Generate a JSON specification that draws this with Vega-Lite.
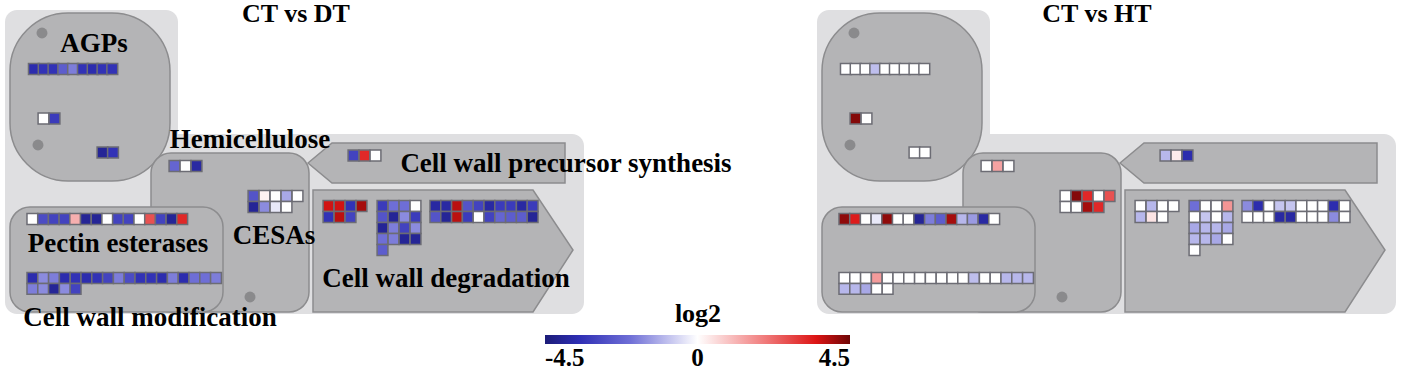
{
"$schema": "https://vega.github.io/schema/vega-lite/v6.json",
"width": 1405, "height": 375, "padding": 0,
"autosize": {"type": "fit", "contains": "padding"},
"background": "white",
"config": {"view": {"stroke": null}},
"datasets": {
"bg": [{"x":5,"x2":178,"y":10,"y2":160},{"x":5,"x2":584,"y":134,"y2":314},{"x":817,"x2":990,"y":10,"y2":160},{"x":817,"x2":1396,"y":134,"y2":314}],
"agp": [{"x":10,"x2":170,"y":13,"y2":181},{"x":822,"x2":982,"y":13,"y2":181}],
"box": [{"x":151,"x2":309,"y":153,"y2":312},{"x":10,"x2":223,"y":207,"y2":312},{"x":963,"x2":1121,"y":153,"y2":312},{"x":822,"x2":1035,"y":207,"y2":312}],
"arrows": [
{"id":"p1","x":308,"y":163,"y2":163},{"id":"p1","x":332,"y":143,"y2":183},{"id":"p1","x":565,"y":143,"y2":183},
{"id":"d1","x":313,"y":190,"y2":312},{"id":"d1","x":533,"y":190,"y2":312},{"id":"d1","x":573,"y":250,"y2":250},
{"id":"p2","x":1120,"y":163,"y2":163},{"id":"p2","x":1144,"y":143,"y2":183},{"id":"p2","x":1377,"y":143,"y2":183},
{"id":"d2","x":1125,"y":190,"y2":312},{"id":"d2","x":1345,"y":190,"y2":312},{"id":"d2","x":1385,"y":250,"y2":250}],
"dots": [{"x":42,"y":33},{"x":38,"y":145},{"x":250,"y":297},{"x":854,"y":33},{"x":850,"y":145},{"x":1062,"y":297}],
"labels": [{"t":"AGPs","x":94,"y":44},{"t":"Hemicellulose","x":250,"y":140},{"t":"Cell wall precursor synthesis","x":566,"y":164},{"t":"CESAs","x":274,"y":236},{"t":"Cell wall degradation","x":446,"y":279},{"t":"Pectin esterases","x":118,"y":244},{"t":"Cell wall modification","x":150,"y":318}],
"titles": [{"t":"CT vs DT","x":296,"y":14},{"t":"CT vs HT","x":1097,"y":14}],
"cells": [
{"x":33.9,"y":69,"log2":-3.6},{"x":43.7,"y":69,"log2":-3.4},{"x":53.5,"y":69,"log2":-3.4},{"x":63.3,"y":69,"log2":-2.4},{"x":73.1,"y":69,"log2":-1.8},{"x":82.9,"y":69,"log2":-3.4},{"x":92.7,"y":69,"log2":-3.6},{"x":102.5,"y":69,"log2":-3.4},{"x":112.3,"y":69,"log2":-3.4},
{"x":43.5,"y":118.5,"log2":0},{"x":54.5,"y":118.5,"log2":-3.2},
{"x":102.5,"y":152.5,"log2":-4},{"x":113,"y":152.5,"log2":-3.4},
{"x":174.5,"y":166,"log2":-2.2},{"x":185.5,"y":166,"log2":0},{"x":196.5,"y":166,"log2":-3.8},
{"x":253.5,"y":196,"log2":-2.6},{"x":264.5,"y":196,"log2":0.2},{"x":275.5,"y":196,"log2":0},{"x":286.5,"y":196,"log2":-1.2},{"x":297.5,"y":196,"log2":0},
{"x":253.5,"y":207,"log2":-4},{"x":264.5,"y":207,"log2":-1.6},{"x":275.5,"y":207,"log2":-0.3},{"x":286.5,"y":207,"log2":0},
{"x":353.5,"y":155.5,"log2":-3},{"x":364.5,"y":155.5,"log2":3.2},{"x":375.5,"y":155.5,"log2":0},
{"x":328.5,"y":206,"log2":3.6},{"x":339.5,"y":206,"log2":3.6},{"x":350.5,"y":206,"log2":-3.4},{"x":361.5,"y":206,"log2":4},
{"x":328.5,"y":217,"log2":-3.4},{"x":339.5,"y":217,"log2":3.8},{"x":350.5,"y":217,"log2":-3},
{"x":382.5,"y":206,"log2":-3.2},{"x":393.5,"y":206,"log2":-2},{"x":404.5,"y":206,"log2":-2},{"x":415.5,"y":206,"log2":0},
{"x":382.5,"y":217,"log2":-2.6},{"x":393.5,"y":217,"log2":-4},{"x":404.5,"y":217,"log2":-1.6},{"x":415.5,"y":217,"log2":-3.2},
{"x":382.5,"y":228,"log2":-4},{"x":393.5,"y":228,"log2":-1.8},{"x":404.5,"y":228,"log2":-3},{"x":415.5,"y":228,"log2":-1.6},
{"x":382.5,"y":239,"log2":-2},{"x":393.5,"y":239,"log2":-1.8},{"x":404.5,"y":239,"log2":-4},{"x":415.5,"y":239,"log2":-4},
{"x":382.5,"y":250,"log2":-2.4},
{"x":435.4,"y":206,"log2":-3.8},{"x":446.2,"y":206,"log2":-3.8},{"x":457,"y":206,"log2":3.8},{"x":467.8,"y":206,"log2":-2.6},{"x":478.6,"y":206,"log2":-3},{"x":489.4,"y":206,"log2":-3.8},{"x":500.2,"y":206,"log2":-3.2},{"x":511,"y":206,"log2":-3.2},{"x":521.8,"y":206,"log2":-3.8},{"x":532.6,"y":206,"log2":-3.2},
{"x":435.4,"y":217,"log2":-2.6},{"x":446.2,"y":217,"log2":-4},{"x":457,"y":217,"log2":3.8},{"x":467.8,"y":217,"log2":-3.2},{"x":478.6,"y":217,"log2":0},{"x":489.4,"y":217,"log2":-3},{"x":500.2,"y":217,"log2":-2.2},{"x":511,"y":217,"log2":-2.4},{"x":521.8,"y":217,"log2":-2.4},{"x":532.6,"y":217,"log2":-4},
{"x":32.4,"y":219,"log2":0},{"x":43.1,"y":219,"log2":-2.8},{"x":53.8,"y":219,"log2":-3},{"x":64.5,"y":219,"log2":-3},{"x":75.2,"y":219,"log2":1.2},{"x":85.9,"y":219,"log2":-4},{"x":96.6,"y":219,"log2":-4},{"x":107.3,"y":219,"log2":0},{"x":118,"y":219,"log2":-3},{"x":128.7,"y":219,"log2":-3},{"x":139.4,"y":219,"log2":0},{"x":150.1,"y":219,"log2":2.6},{"x":160.8,"y":219,"log2":-3},{"x":171.5,"y":219,"log2":-4},{"x":182.2,"y":219,"log2":3.2},
{"x":32.4,"y":278,"log2":-3.6},{"x":43.2,"y":278,"log2":-1.6},{"x":54,"y":278,"log2":-1.8},{"x":64.8,"y":278,"log2":-3.6},{"x":75.6,"y":278,"log2":-3.4},{"x":86.4,"y":278,"log2":-3.6},{"x":97.2,"y":278,"log2":-3.4},{"x":108,"y":278,"log2":-3},{"x":118.8,"y":278,"log2":-1.8},{"x":129.6,"y":278,"log2":-2.8},{"x":140.4,"y":278,"log2":-3.4},{"x":151.2,"y":278,"log2":-3.4},{"x":162,"y":278,"log2":-3.6},{"x":172.8,"y":278,"log2":-1.8},{"x":183.6,"y":278,"log2":-3.6},{"x":194.4,"y":278,"log2":-2},{"x":205.2,"y":278,"log2":-2},{"x":216,"y":278,"log2":-1.8},
{"x":32.4,"y":288.8,"log2":-1.8},{"x":43.2,"y":288.8,"log2":-1.6},{"x":54,"y":288.8,"log2":-4},{"x":64.8,"y":288.8,"log2":-1.6},{"x":75.6,"y":288.8,"log2":-3},
{"x":845.9,"y":69,"log2":0},{"x":855.7,"y":69,"log2":0},{"x":865.5,"y":69,"log2":0},{"x":875.3,"y":69,"log2":-0.9},{"x":885.1,"y":69,"log2":0},{"x":894.9,"y":69,"log2":0},{"x":904.7,"y":69,"log2":0},{"x":914.5,"y":69,"log2":0},{"x":924.3,"y":69,"log2":0},
{"x":855.5,"y":118.5,"log2":4.3},{"x":866.5,"y":118.5,"log2":0},
{"x":914.5,"y":152.5,"log2":0},{"x":925,"y":152.5,"log2":0},
{"x":986.5,"y":166,"log2":0},{"x":997.5,"y":166,"log2":1.4},{"x":1008.5,"y":166,"log2":0},
{"x":1065.5,"y":196,"log2":0},{"x":1076.5,"y":196,"log2":4.3},{"x":1087.5,"y":196,"log2":3.2},{"x":1098.5,"y":196,"log2":0},{"x":1109.5,"y":196,"log2":2.6},
{"x":1065.5,"y":207,"log2":0},{"x":1076.5,"y":207,"log2":0},{"x":1087.5,"y":207,"log2":4},{"x":1098.5,"y":207,"log2":3.2},
{"x":1165.5,"y":155.5,"log2":-1},{"x":1176.5,"y":155.5,"log2":0.3},{"x":1187.5,"y":155.5,"log2":-3.6},
{"x":1140.5,"y":206,"log2":0},{"x":1151.5,"y":206,"log2":-1},{"x":1162.5,"y":206,"log2":0},{"x":1173.5,"y":206,"log2":0},
{"x":1140.5,"y":217,"log2":-1},{"x":1151.5,"y":217,"log2":0.4},{"x":1162.5,"y":217,"log2":0},
{"x":1194.5,"y":206,"log2":-2},{"x":1205.5,"y":206,"log2":0},{"x":1216.5,"y":206,"log2":0},{"x":1227.5,"y":206,"log2":1.6},
{"x":1194.5,"y":217,"log2":0},{"x":1205.5,"y":217,"log2":-0.8},{"x":1216.5,"y":217,"log2":0},{"x":1227.5,"y":217,"log2":-1},
{"x":1194.5,"y":228,"log2":-1.2},{"x":1205.5,"y":228,"log2":-1},{"x":1216.5,"y":228,"log2":-1},{"x":1227.5,"y":228,"log2":-1.2},
{"x":1194.5,"y":239,"log2":-1},{"x":1205.5,"y":239,"log2":-1},{"x":1216.5,"y":239,"log2":-1.2},{"x":1227.5,"y":239,"log2":0},
{"x":1194.5,"y":250,"log2":0},
{"x":1247.4,"y":206,"log2":-1.6},{"x":1258.2,"y":206,"log2":-3.6},{"x":1269,"y":206,"log2":0},{"x":1279.8,"y":206,"log2":-0.8},{"x":1290.6,"y":206,"log2":-0.8},{"x":1301.4,"y":206,"log2":0},{"x":1312.2,"y":206,"log2":0},{"x":1323,"y":206,"log2":0},{"x":1333.8,"y":206,"log2":-3.6},{"x":1344.6,"y":206,"log2":0},
{"x":1247.4,"y":217,"log2":0},{"x":1258.2,"y":217,"log2":0},{"x":1269,"y":217,"log2":0},{"x":1279.8,"y":217,"log2":-3.8},{"x":1290.6,"y":217,"log2":-3.8},{"x":1301.4,"y":217,"log2":0},{"x":1312.2,"y":217,"log2":0},{"x":1323,"y":217,"log2":0},{"x":1333.8,"y":217,"log2":-1.6},{"x":1344.6,"y":217,"log2":0},
{"x":844.4,"y":219,"log2":4.2},{"x":855.1,"y":219,"log2":3.4},{"x":865.8,"y":219,"log2":0},{"x":876.5,"y":219,"log2":-0.3},{"x":887.2,"y":219,"log2":4.2},{"x":897.9,"y":219,"log2":0},{"x":908.6,"y":219,"log2":0},{"x":919.3,"y":219,"log2":-4},{"x":930,"y":219,"log2":-1.8},{"x":940.7,"y":219,"log2":-2.4},{"x":951.4,"y":219,"log2":4},{"x":962.1,"y":219,"log2":-1},{"x":972.8,"y":219,"log2":-1.4},{"x":983.5,"y":219,"log2":-3.8},{"x":994.2,"y":219,"log2":0},
{"x":844.4,"y":278,"log2":0},{"x":855.2,"y":278,"log2":0},{"x":866,"y":278,"log2":0},{"x":876.8,"y":278,"log2":1.5},{"x":887.6,"y":278,"log2":0},{"x":898.4,"y":278,"log2":0},{"x":909.2,"y":278,"log2":0},{"x":920,"y":278,"log2":0},{"x":930.8,"y":278,"log2":0},{"x":941.6,"y":278,"log2":0},{"x":952.4,"y":278,"log2":0},{"x":963.2,"y":278,"log2":0},{"x":974,"y":278,"log2":-0.9},{"x":984.8,"y":278,"log2":0},{"x":995.6,"y":278,"log2":0},{"x":1006.4,"y":278,"log2":-1},{"x":1017.2,"y":278,"log2":-1},{"x":1028,"y":278,"log2":-1},
{"x":844.4,"y":288.8,"log2":-1},{"x":855.2,"y":288.8,"log2":-1},{"x":866,"y":288.8,"log2":-1.2},{"x":876.8,"y":288.8,"log2":0},{"x":887.6,"y":288.8,"log2":0}
]
},
"encoding": {
"x": {"field": "x", "type": "quantitative", "scale": {"domain": [0, 1405], "nice": false, "zero": false}, "axis": null},
"y": {"field": "y", "type": "quantitative", "scale": {"domain": [0, 375], "reverse": true, "nice": false, "zero": false}, "axis": null}
},
"layer": [
{"data": {"name": "bg"}, "mark": {"type": "rect", "fill": "#dfdfe1", "cornerRadius": 12},
 "encoding": {"x2": {"field": "x2"}, "y2": {"field": "y2"}}},
{"data": {"name": "agp"}, "mark": {"type": "rect", "fill": "#b4b4b6", "stroke": "#8c8c8e", "strokeWidth": 1.5, "cornerRadius": 58},
 "encoding": {"x2": {"field": "x2"}, "y2": {"field": "y2"}}},
{"data": {"name": "box"}, "mark": {"type": "rect", "fill": "#b4b4b6", "stroke": "#8c8c8e", "strokeWidth": 1.5, "cornerRadius": 20},
 "encoding": {"x2": {"field": "x2"}, "y2": {"field": "y2"}}},
{"data": {"name": "arrows"}, "mark": {"type": "area", "fill": "#b4b4b6", "stroke": "#8c8c8e", "strokeWidth": 1.5, "opacity": 1},
 "encoding": {"y2": {"field": "y2"}, "detail": {"field": "id"}}},
{"data": {"name": "dots"}, "mark": {"type": "circle", "size": 120, "color": "#8a8a8c", "opacity": 1}, "encoding": {}},
{"data": {"name": "cells"}, "mark": {"type": "square", "size": 117, "filled": true, "stroke": "#6c6c74", "strokeWidth": 1.5, "opacity": 1},
 "encoding": {
  "fill": {"field": "log2", "type": "quantitative",
   "scale": {"domain": [-4.5, -3.5, -2, 0, 2, 3.5, 4.5], "range": ["#1c1c78", "#2e2eb4", "#6e6ed6", "#ffffff", "#f07a7a", "#dc1414", "#6e0606"], "interpolate": "rgb"},
   "legend": {"title": "log2", "orient": "none", "legendX": 545, "legendY": 301, "direction": "horizontal",
    "gradientLength": 305, "gradientThickness": 9, "gradientStrokeWidth": 0,
    "values": [-4.5, 0, 4.5], "labelAlign": "center",
    "labelExpr": "datum.value == 0 ? '0' : (datum.value < 0 ? '-' : '') + format(abs(datum.value), '.1f')",
    "titleAnchor": "middle", "titleFont": "Liberation Serif", "titleFontSize": 26, "titleFontWeight": "bold", "titleColor": "#000000", "titlePadding": 8,
    "labelFont": "Liberation Serif", "labelFontSize": 25, "labelFontWeight": "bold", "labelColor": "#000000", "labelOffset": 2}
  }
 }},
{"data": {"name": "labels"}, "mark": {"type": "text", "font": "Liberation Serif", "fontWeight": "bold", "fontSize": 27, "align": "center", "baseline": "middle", "color": "#000000"},
 "encoding": {"text": {"field": "t"}}},
{"data": {"name": "titles"}, "mark": {"type": "text", "font": "Liberation Serif", "fontWeight": "bold", "fontSize": 26, "align": "center", "baseline": "middle", "color": "#000000"},
 "encoding": {"text": {"field": "t"}}}
]
}
